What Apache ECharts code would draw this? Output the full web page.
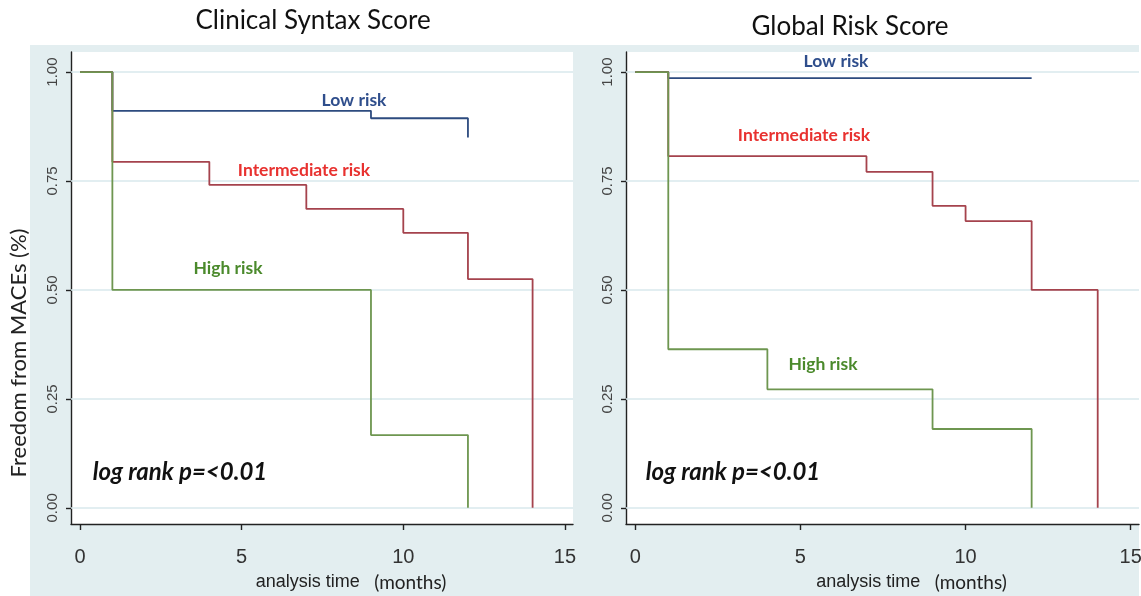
<!DOCTYPE html>
<html>
<head>
<meta charset="utf-8">
<script src="https://cdn.jsdelivr.net/npm/echarts@6/dist/echarts.min.js"></script>
<style>
html,body{margin:0;padding:0;background:#ffffff;}
#chart{width:1141px;height:596px;}
</style>
</head>
<body>
<div id="chart"></div>
<script>
// ---- data ----
const panelTitles = ['Clinical Syntax Score', 'Global Risk Score'];
const xTicks = [0, 5, 10, 15];
const yTicks = [0, 0.25, 0.5, 0.75, 1];

// Clinical Syntax Score (time in months, survival after step)
const csLowTime = [0, 1, 9, 12];
const csLowSurv = [1, 0.911, 0.894, 0.850];
const csIntTime = [0, 1, 4, 7, 10, 12, 14];
const csIntSurv = [1, 0.794, 0.741, 0.686, 0.631, 0.525, 0];
const csHighTime = [0, 1, 9, 12];
const csHighSurv = [1, 0.5, 0.167, 0];

// Global Risk Score
const grLowTime = [0, 1, 12];
const grLowSurv = [1, 0.986, 0.986];
const grIntTime = [0, 1, 7, 9, 10, 12, 14];
const grIntSurv = [1, 0.807, 0.771, 0.693, 0.658, 0.5, 0];
const grHighTime = [0, 1, 4, 9, 12];
const grHighSurv = [1, 0.364, 0.272, 0.181, 0];

const zip = (t, s) => t.map((v, i) => [v, s[i]]);

const colLow = '#2d4b7f', colInt = '#a5434d', colHigh = '#6e9650';
const txtLow = '#2f4e8c', txtInt = '#e8312f', txtHigh = '#4b8a2c';
const narrow = "'Liberation Sans Narrow','Arial Narrow','Liberation Sans',sans-serif";

const chart = echarts.init(document.getElementById('chart'));

function xAx(gi) {
  return {
    type: 'value', gridIndex: gi, min: -0.28, max: 15.25,
    axisLine: {show: true, onZero: false, lineStyle: {color: '#222', width: 1.4}},
    axisTick: {show: true, length: 6, customValues: xTicks, lineStyle: {color: '#222', width: 1.4}},
    axisLabel: {customValues: xTicks, margin: 23, fontFamily: narrow,
      fontSize: 20, color: '#333'},
    splitLine: {show: false},
    name: '{a|analysis time}{b|   (months)}',
    nameLocation: 'middle', nameGap: 49,
    nameTextStyle: {padding: [0, 0, 0, 58],
      rich: {
        a: {fontFamily: narrow, fontSize: 18, color: '#222'},
        b: {fontFamily: "Lato, 'Open Sans', sans-serif", fontSize: 19, color: '#222'}
      }}
  };
}
function yAx(gi) {
  return {
    type: 'value', gridIndex: gi, min: -0.037, max: 1.046,
    axisLine: {show: true, onZero: false, lineStyle: {color: '#222', width: 1.4}},
    axisTick: {show: true, length: 5, customValues: yTicks, lineStyle: {color: '#222', width: 1.4}},
    axisLabel: {customValues: yTicks, rotate: 90, margin: 11, fontFamily: "'Liberation Sans',Arial,sans-serif",
      fontSize: 15, color: '#444', formatter: v => v.toFixed(2)},
    splitLine: {show: false}
  };
}
function gridLines(xi) {
  return {
    type: 'line', xAxisIndex: xi, yAxisIndex: xi, data: [], silent: true, z: 1,
    markLine: {symbol: 'none', silent: true, label: {show: false}, z: 1,
      lineStyle: {color: '#d9e8ec', width: 1.5, type: 'solid'},
      data: yTicks.map(v => ({yAxis: v}))}
  };
}
function km(name, xi, t, s, color) {
  return {
    name, type: 'line', xAxisIndex: xi, yAxisIndex: xi, step: 'end', symbol: 'none', z: 5,
    data: zip(t, s), lineStyle: {color, width: 1.8}, silent: true, animation: false
  };
}

const lbl = (x, y, text, fill, font) => ({type: 'text', x, y, z: 100,
  style: {text, fill, font, textAlign: 'center', textVerticalAlign: 'middle'}});
const bold = "bold 17.5px Lato, 'Open Sans', sans-serif";
const logFont = "italic bold 24px Lato, 'Open Sans', sans-serif";
const titleFont = "26px Lato, 'Open Sans', sans-serif";

chart.setOption({
  animation: false,
  backgroundColor: '#ffffff',
  grid: [
    {left: 71, right: 568, top: 52, bottom: 72, show: true, backgroundColor: '#ffffff', borderWidth: 0,
      containLabel: false, outerBoundsMode: 'none'},
    {left: 626, right: 2, top: 52, bottom: 72, show: true, backgroundColor: '#ffffff', borderWidth: 0,
      containLabel: false, outerBoundsMode: 'none'}
  ],
  xAxis: [xAx(0), xAx(1)],
  yAxis: [yAx(0), yAx(1)],
  graphic: [
    {type: 'rect', z: -10, silent: true, shape: {x: 30, y: 45, width: 1109, height: 551}, style: {fill: '#e3eef0'}},
    lbl(313, 21, panelTitles[0], '#111', titleFont),
    lbl(850, 27, panelTitles[1], '#111', titleFont),
    {type: 'text', x: 19, y: 353, rotation: Math.PI / 2, z: 100,
      style: {text: 'Freedom from MACEs (%)', fill: '#222', font: "22px Lato, 'Open Sans', sans-serif", textAlign: 'center', textVerticalAlign: 'middle'}},
    lbl(354, 100, 'Low risk', txtLow, bold),
    lbl(304, 170, 'Intermediate risk', txtInt, bold),
    lbl(228, 268, 'High risk', txtHigh, bold),
    lbl(180, 472, 'log rank p=<0.01', '#111', logFont),
    lbl(836, 61, 'Low risk', txtLow, bold),
    lbl(804, 135, 'Intermediate risk', txtInt, bold),
    lbl(823, 364, 'High risk', txtHigh, bold),
    lbl(733, 472, 'log rank p=<0.01', '#111', logFont)
  ],
  series: [
    gridLines(0), gridLines(1),
    km('Low risk', 0, csLowTime, csLowSurv, colLow),
    km('Intermediate risk', 0, csIntTime, csIntSurv, colInt),
    km('High risk', 0, csHighTime, csHighSurv, colHigh),
    km('Low risk', 1, grLowTime, grLowSurv, colLow),
    km('Intermediate risk', 1, grIntTime, grIntSurv, colInt),
    km('High risk', 1, grHighTime, grHighSurv, colHigh)
  ]
});
</script>
</body>
</html>
